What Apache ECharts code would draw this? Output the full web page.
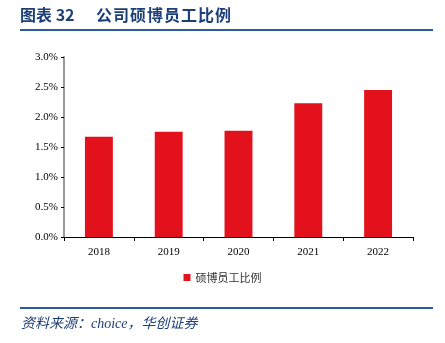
<!DOCTYPE html>
<html><head><meta charset="utf-8">
<script src="https://cdn.jsdelivr.net/npm/echarts@6/dist/echarts.min.js"></script>
<style>html,body{margin:0;padding:0;background:#fff}#c{width:445px;height:343px}</style>
</head><body><div id="c"></div>
<script>
const categories = ['2018','2019','2020','2021','2022'];
const seriesName = '硕博员工比例';
const values = [1.67, 1.755, 1.77, 2.23, 2.45];
const yTicks = [0, 0.5, 1.0, 1.5, 2.0, 2.5, 3.0];

const chart = echarts.init(document.getElementById('c'), null, {renderer:'canvas'});
const serif = '"Liberation Serif","DejaVu Serif",serif';
const blue = '#1d3f78';
chart.setOption({
  animation:false,
  backgroundColor:'#fff',
  grid:{left:64, right:32, top:57, bottom:106},
  legend:{
    data:[seriesName], bottom:55, left:'center',
    itemWidth:7, itemHeight:7, itemGap:3, icon:'rect',
    textStyle:{fontFamily:'"Noto Sans CJK SC"', fontSize:11, color:'#333'}
  },
  xAxis:{
    type:'category', data:categories,
    axisLine:{lineStyle:{color:'#000', width:1}},
    axisTick:{show:true, length:4, lineStyle:{color:'#000'}},
    axisLabel:{fontFamily:serif, fontSize:11, color:'#000', margin:10}
  },
  yAxis:{
    type:'value', min:yTicks[0], max:yTicks[yTicks.length-1], interval:0.5,
    axisLine:{show:true, lineStyle:{color:'#999', width:2}},
    axisTick:{show:true, inside:false, length:3, lineStyle:{color:'#000'}},
    splitLine:{show:false},
    axisLabel:{fontFamily:serif, fontSize:11, color:'#000', margin:6,
      formatter:v=>v.toFixed(1)+'%'}
  },
  series:[{
    name:seriesName, type:'bar', data:values, barWidth:'40%',
    itemStyle:{color:'#e3111b'}
  }],
  graphic:[
    {type:'text', left:20, top:7, style:{text:'图表 32', fill:blue,
      font:'bold 16px "Noto Sans CJK SC"'}},
    {type:'text', left:96, top:7, style:{text:'公\u200a司\u200a硕\u200a博\u200a员\u200a工\u200a比\u200a例', fill:blue,
      font:'bold 16px "Noto Sans CJK SC"'}},
    {type:'rect', shape:{x:20, y:29, width:413, height:2}, style:{fill:'#2c5ba3'}},
    {type:'rect', shape:{x:20, y:307, width:413, height:2}, style:{fill:'#2c5ba3'}},
    {type:'text', left:21, top:317, style:{text:'资料来源：choice，华创证券', fill:blue,
      font:'italic 14px "Liberation Serif","Noto Sans CJK SC"'}}
  ]
});
</script></body></html>
